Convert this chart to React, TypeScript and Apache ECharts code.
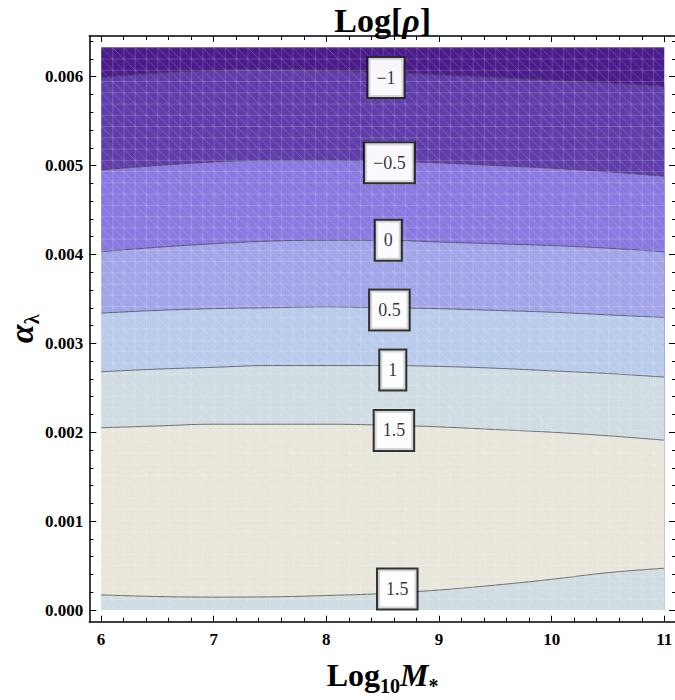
import React, { useEffect, useRef } from "react";
import * as echarts from "echarts";

// ---------------- data ----------------
const xSamples = [6, 6.5, 7, 7.5, 8, 8.5, 9, 9.5, 10, 10.5, 11];

// contour lines alpha_lambda(Log10 M*) for each level of Log[rho]
const contourMinus1 = [0.00599, 0.00604, 0.00607, 0.00608, 0.00607, 0.00605, 0.00602, 0.00599, 0.00596, 0.00593, 0.00589];
const contourMinus05 = [0.00495, 0.005, 0.00504, 0.00506, 0.00506, 0.00505, 0.00503, 0.005, 0.00497, 0.00493, 0.00488];
const contour0 = [0.00403, 0.00408, 0.00412, 0.00415, 0.00416, 0.00416, 0.00414, 0.00412, 0.0041, 0.00407, 0.00403];
const contour05 = [0.00334, 0.00337, 0.00339, 0.0034, 0.00341, 0.0034, 0.00339, 0.00337, 0.00335, 0.00332, 0.00329];
const contour1 = [0.00268, 0.00271, 0.00273, 0.00275, 0.00275, 0.00275, 0.00274, 0.00272, 0.00269, 0.00266, 0.00262];
const contour15Upper = [0.00205, 0.00207, 0.00209, 0.00209, 0.00209, 0.00208, 0.00206, 0.00203, 0.002, 0.00196, 0.00191];
const contour15Lower = [0.00017, 0.000152, 0.000145, 0.000148, 0.000163, 0.000185, 0.000225, 0.00028, 0.000345, 0.00042, 0.00047];

const contourLevels = ["-1", "-0.5", "0", "0.5", "1", "1.5", "1.5"];
const contourLines = [contourMinus1, contourMinus05, contour0, contour05, contour1, contour15Upper, contour15Lower];

// contour labels: [x, y, text]
const labelX = [8.53, 8.56, 8.55, 8.56, 8.59, 8.6, 8.63];
const labelY = [0.00599, 0.00503, 0.00416, 0.003375, 0.0027, 0.00202, 0.000236];
const labelText = ["\u22121", "\u22120.5", "0", "0.5", "1", "1.5", "1.5"];

// axes
const xRange = [6, 11];
const yRange = [0, 0.00633];
const xMajorTicks = [6, 7, 8, 9, 10, 11];
const yMajorTicks = [0, 0.001, 0.002, 0.003, 0.004, 0.005, 0.006];

// ---------------- style ----------------
const SERIF = "'Liberation Serif', 'Times New Roman', 'DejaVu Serif', serif";
const topBandColor = "#4a1b8b";
const bandColors = ["#5f3ca9", "#8878df", "#a1a5e8", "#b9cbeb", "#cfdce2", "#e8e5da", "#cfdce2"];

const DATA_L = 101;
const DATA_T = 47.3;
const DATA_W = 563.3;
const DATA_H = 562.7;
const PAD_X = 11.7;
const PAD_TOP = 11.3;
const PAD_BOTTOM = 11.7;

function minorTicks(majors: number[], n: number, extraAbove: number[]) {
  const out: number[] = [];
  for (let i = 0; i < majors.length - 1; i++) {
    const step = (majors[i + 1] - majors[i]) / (n + 1);
    for (let k = 1; k <= n; k++) out.push(+(majors[i] + k * step).toFixed(6));
  }
  return out.concat(extraAbove);
}

export default function App() {
  const ref = useRef<HTMLDivElement>(null);
  useEffect(() => {
    if (!ref.current) return;
    const chart = echarts.init(ref.current, undefined, { renderer: "svg" });

    const xPerPx = (xRange[1] - xRange[0]) / DATA_W;
    const yPerPx = (yRange[1] - yRange[0]) / DATA_H;
    const fxMin = xRange[0] - PAD_X * xPerPx;
    const fxMax = xRange[1] + PAD_X * xPerPx;
    const fyMin = yRange[0] - PAD_BOTTOM * yPerPx;
    const fyMax = yRange[1] + PAD_TOP * yPerPx;

    const xMinor = minorTicks(xMajorTicks, 4, []);
    const yMinor = minorTicks(yMajorTicks, 4, [0.0062, 0.0064]);

    const tickLabelStyle = {
      fontFamily: SERIF,
      fontWeight: "bold" as const,
      fontSize: 17,
      color: "#000",
    };

    const frameX = (position: string, ticks: number[], len: number, withLine: boolean, withLabel: boolean, extra: any = {}) => ({
      type: "value",
      gridIndex: 1,
      position,
      min: fxMin,
      max: fxMax,
      axisLine: { show: withLine, onZero: false, lineStyle: { color: "#000", width: 1.5 } },
      axisTick: { show: true, inside: true, length: len, customValues: ticks, lineStyle: { color: "#000", width: 1 } },
      axisLabel: {
        show: withLabel,
        customValues: ticks,
        margin: 9,
        formatter: (v: number) => String(Math.round(v)),
        ...tickLabelStyle,
      },
      splitLine: { show: false },
      ...extra,
    });

    const frameY = (position: string, ticks: number[], len: number, withLine: boolean, withLabel: boolean, extra: any = {}) => ({
      type: "value",
      gridIndex: 1,
      position,
      min: fyMin,
      max: fyMax,
      axisLine: { show: withLine, onZero: false, lineStyle: { color: "#000", width: 1.5 } },
      axisTick: { show: true, inside: true, length: len, customValues: ticks, lineStyle: { color: "#000", width: 1 } },
      axisLabel: {
        show: withLabel,
        customValues: ticks,
        margin: 6,
        formatter: (v: number) => v.toFixed(3),
        ...tickLabelStyle,
      },
      splitLine: { show: false },
      ...extra,
    });

    const cw = DATA_W / 50;
    const ch = DATA_H / 50;
    const meshSvg = `<svg xmlns='http://www.w3.org/2000/svg' width='${cw}' height='${ch}'><path d='M0 0 L${cw} ${ch} M0 0.4 L${cw} 0.4 M0.4 0 L0.4 ${ch}' stroke='white' stroke-opacity='0.22' stroke-width='0.9' fill='none'/></svg>`;
    const meshPattern = {
      image: "data:image/svg+xml;charset=utf-8," + encodeURIComponent(meshSvg),
      repeat: "repeat",
      imageWidth: cw,
      imageHeight: ch,
    };

    const contourSeries = contourLines.map((vals, i) => ({
      type: "line",
      name: "Log[rho]=" + contourLevels[i],
      xAxisIndex: 0,
      yAxisIndex: 0,
      data: xSamples.map((x, j) => [x, vals[j]]),
      smooth: 0.4,
      symbol: "none",
      silent: true,
      lineStyle: { color: "rgba(70,70,70,0.75)", width: 1 },
      areaStyle: { color: bandColors[i], opacity: 1, origin: "start" },
      z: 2 + i,
    }));

    const labelData = labelX.map((x, i) => [x, labelY[i], labelText[i]]);

    const labelBase = {
      show: true,
      position: "inside",
      formatter: (p: any) => p.data[2],
      fontFamily: SERIF,
      fontSize: 18,
      lineHeight: 18,
      color: "#000",
      backgroundColor: "#fff",
    };

    const option: any = {
      animation: false,
      grid: [
        {
          left: DATA_L, top: DATA_T, width: DATA_W, height: DATA_H,
          show: true, backgroundColor: topBandColor, borderWidth: 0,
          containLabel: false, outerBoundsMode: "none",
        },
        {
          left: DATA_L - PAD_X, top: DATA_T - PAD_TOP,
          width: DATA_W + 2 * PAD_X, height: DATA_H + PAD_TOP + PAD_BOTTOM,
          show: false, containLabel: false, outerBoundsMode: "none",
        },
      ],
      xAxis: [
        { type: "value", gridIndex: 0, min: xRange[0], max: xRange[1], show: false },
        frameX("bottom", xMajorTicks, 6, true, true, {
          name: "{a|Log}{s|10}{i|M}{t|*}",
          nameLocation: "middle",
          nameGap: 32,
          nameMoveOverlap: false,
          nameTextStyle: {
            rich: {
              a: { fontFamily: SERIF, fontWeight: "bold", fontSize: 32, lineHeight: 42, color: "#000" },
              s: { fontFamily: SERIF, fontWeight: "bold", fontSize: 20, lineHeight: 20, verticalAlign: "bottom", color: "#000" },
              i: { fontFamily: SERIF, fontWeight: "bold", fontStyle: "italic", fontSize: 32, lineHeight: 42, color: "#000" },
              t: { fontFamily: SERIF, fontWeight: "bold", fontSize: 20, lineHeight: 20, verticalAlign: "bottom", color: "#000" },
            },
          },
        }),
        frameX("bottom", xMinor, 4, false, false),
        frameX("top", xMajorTicks, 6, true, false),
        frameX("top", xMinor, 4, false, false),
      ],
      yAxis: [
        { type: "value", gridIndex: 0, min: yRange[0], max: yRange[1], show: false },
        frameY("left", yMajorTicks, 7, true, true, {
          name: "{i|\u03b1}{s|\u03bb}",
          nameLocation: "middle",
          nameRotate: 90,
          nameGap: 47,
          nameMoveOverlap: false,
          nameTextStyle: {
            rich: {
              i: { fontFamily: SERIF, fontWeight: "bold", fontStyle: "italic", fontSize: 34, lineHeight: 42, color: "#000" },
              s: { fontFamily: SERIF, fontWeight: "bold", fontSize: 20, lineHeight: 20, verticalAlign: "bottom", color: "#000" },
            },
          },
        }),
        frameY("left", yMinor, 4, false, false),
        frameY("right", yMajorTicks, 7, true, false),
        frameY("right", yMinor, 4, false, false),
      ],
      graphic: [
        {
          type: "rect",
          x: DATA_L,
          y: DATA_T,
          shape: { x: 0, y: 0, width: DATA_W, height: DATA_H },
          style: { fill: meshPattern },
          silent: true,
          z: 20,
        },
        {
          type: "text",
          x: DATA_L - PAD_X + (DATA_W + 2 * PAD_X) / 2,
          y: 2,
          style: {
            text: "{a|Log[}{i|\u03c1}{a|]}",
            align: "center",
            verticalAlign: "top",
            rich: {
              a: { fontFamily: SERIF, fontWeight: "bold", fontSize: 34, lineHeight: 36, fill: "#000" },
              i: { fontFamily: SERIF, fontWeight: "bold", fontStyle: "italic", fontSize: 34, lineHeight: 36, fill: "#000" },
            },
          },
          z: 40,
        },
      ],
      series: [
        ...contourSeries,
        {
          type: "scatter",
          name: "label-halo",
          xAxisIndex: 0,
          yAxisIndex: 0,
          data: labelData,
          symbolSize: 1,
          itemStyle: { color: "rgba(0,0,0,0)" },
          silent: true,
          z: 30,
          label: { ...labelBase, color: "rgba(0,0,0,0)", padding: [12.5, 9] },
        },
        {
          type: "scatter",
          name: "labels",
          xAxisIndex: 0,
          yAxisIndex: 0,
          data: labelData,
          symbolSize: 1,
          itemStyle: { color: "rgba(0,0,0,0)" },
          silent: true,
          z: 31,
          label: { ...labelBase, borderColor: "#000", borderWidth: 2, padding: [10.5, 8] },
        },
      ],
    };

    chart.setOption(option);
    return () => chart.dispose();
  }, []);

  return <div ref={ref} style={{ position: "absolute", left: 0, top: 0, width: 675, height: 700 }} />;
}
